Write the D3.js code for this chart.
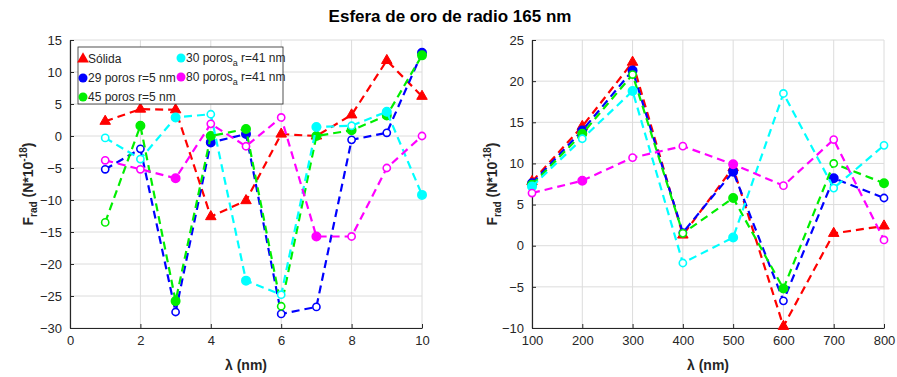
<!DOCTYPE html>
<html>
<head>
<meta charset="utf-8">
<script src="https://cdn.jsdelivr.net/npm/d3@7"></script>
<style>
  html, body { margin: 0; padding: 0; background: #fff; }
  svg { display: block; font-family: "Liberation Sans", Arial, Helvetica, sans-serif; }
</style>
</head>
<body>
<svg id="chart" width="897" height="377"></svg>
<script>
// Wavelength sweeps for each panel
const lambdaLeft = [1, 2, 3, 4, 5, 6, 7, 8, 9, 10];
const lambdaRight = [100, 200, 300, 400, 500, 600, 700, 800];

// Tick values
const xTicksLeft = [0, 2, 4, 6, 8, 10];
const yTicksLeft = [-30, -25, -20, -15, -10, -5, 0, 5, 10, 15];
const xTicksRight = [100, 200, 300, 400, 500, 600, 700, 800];
const yTicksRight = [-10, -5, 0, 5, 10, 15, 20, 25];

// Series names and colours
const seriesNames = ["Sólida", "29 poros r=5 nm", "45 poros r=5 nm", "30 poros_a r=41 nm", "80 poros_a r=41 nm"];
const seriesColors = ["#ff0000", "#0000ff", "#00ee00", "#00ffff", "#ff00ff"];

// Radiation force, left panel (N*10^-18)
const solidaLeft = [2.3, 4.2, 4.1, -12.6, -10.1, 0.3, 0.0, 3.3, 11.8, 6.2];
const poros29Left = [-5.2, -2.0, -27.5, -1.0, 0.3, -27.8, -26.7, -0.6, 0.5, 13.0];
const poros45Left = [-13.5, 1.6, -25.8, 0.0, 1.1, -26.6, 0.0, 0.9, 3.2, 12.6];
const poros30aLeft = [-0.3, -3.6, 2.9, 3.4, -22.6, -24.8, 1.4, 1.6, 3.8, -9.2];
const poros80aLeft = [-3.8, -5.2, -6.6, 1.9, -1.6, 2.9, -15.7, -15.7, -5.0, 0.0];

// Radiation force, right panel (N*10^-18)
const solidaRight = [7.8, 14.5, 22.3, 1.3, 9.5, -9.8, 1.5, 2.4];
const poros29Right = [7.6, 14.0, 21.3, 1.6, 9.0, -6.7, 8.2, 5.8];
const poros45Right = [7.4, 13.6, 20.8, 1.5, 5.8, -5.2, 10.0, 7.6];
const poros30aRight = [7.2, 13.0, 18.8, -2.1, 1.0, 18.5, 7.0, 12.2];
const poros80aRight = [6.4, 7.9, 10.7, 12.1, 9.9, 7.3, 12.9, 0.7];

// Filled (1) or hollow (0) circle markers per point
const fillLeft = [
  [1, 1, 1, 1, 1, 1, 1, 1, 1, 1],
  [0, 0, 0, 1, 1, 0, 0, 0, 0, 1],
  [0, 1, 1, 1, 1, 0, 1, 1, 1, 1],
  [0, 0, 1, 0, 1, 0, 1, 0, 1, 1],
  [0, 0, 1, 0, 0, 0, 1, 0, 0, 0]
];
const fillRight = [
  [1, 1, 1, 1, 1, 1, 1, 1],
  [1, 1, 1, 0, 1, 0, 1, 0],
  [1, 1, 0, 0, 1, 1, 0, 1],
  [1, 0, 1, 0, 1, 0, 0, 0],
  [0, 1, 0, 0, 1, 0, 0, 0]
];

const svg = d3.select("#chart");

svg.append("text")
  .attr("x", 450).attr("y", 22)
  .attr("text-anchor", "middle")
  .attr("font-size", 17).attr("font-weight", "bold")
  .attr("fill", "#000")
  .text("Esfera de oro de radio 165 nm");

function drawPanel(opts) {
  const { left, right, top, bottom, xDomain, yDomain, xTicks, yTicks, xs, series, fills, labelX } = opts;
  const x = d3.scaleLinear().domain(xDomain).range([left, right]);
  const y = d3.scaleLinear().domain(yDomain).range([bottom, top]);
  const g = svg.append("g");

  // grid
  g.append("g").selectAll("line").data(xTicks).join("line")
    .attr("x1", d => x(d)).attr("x2", d => x(d))
    .attr("y1", top).attr("y2", bottom)
    .attr("stroke", "#dcdcdc").attr("stroke-width", 1);
  g.append("g").selectAll("line").data(yTicks).join("line")
    .attr("x1", left).attr("x2", right)
    .attr("y1", d => y(d)).attr("y2", d => y(d))
    .attr("stroke", "#dcdcdc").attr("stroke-width", 1);

  // axes
  const xAxis = d3.axisBottom(x).tickValues(xTicks).tickSizeInner(-4).tickSizeOuter(0).tickPadding(8);
  const yAxis = d3.axisLeft(y).tickValues(yTicks).tickSizeInner(-4).tickSizeOuter(0).tickPadding(8);
  const gx = g.append("g").attr("transform", `translate(0,${bottom})`).call(xAxis);
  const gy = g.append("g").attr("transform", `translate(${left},0)`).call(yAxis);
  [gx, gy].forEach(a => {
    a.select(".domain").attr("stroke", "#262626").attr("stroke-width", 1.2);
    a.selectAll(".tick line").attr("stroke", "#262626");
    a.selectAll(".tick text").attr("fill", "#262626").attr("font-size", 13)
      .attr("font-family", "'Liberation Sans', Arial, sans-serif");
  });

  // series
  series.forEach((vals, si) => {
    const color = seriesColors[si];
    const pts = xs.map((xv, i) => ({ x: xv, y: vals[i], f: fills[si][i] }));
    g.append("path")
      .datum(pts)
      .attr("fill", "none")
      .attr("stroke", color)
      .attr("stroke-width", 2.2)
      .attr("stroke-dasharray", "8,5")
      .attr("d", d3.line().x(d => x(d.x)).y(d => y(d.y)));
    if (si === 0) {
      g.append("g").selectAll("path").data(pts).join("path")
        .attr("transform", d => `translate(${x(d.x)},${y(d.y)})`)
        .attr("d", d3.symbol(d3.symbolTriangle, 48))
        .attr("fill", color).attr("stroke", color).attr("stroke-width", 1);
    } else {
      g.append("g").selectAll("circle").data(pts).join("circle")
        .attr("cx", d => x(d.x)).attr("cy", d => y(d.y))
        .attr("r", d => d.f ? 4.2 : 3.6)
        .attr("fill", d => d.f ? color : "#fff")
        .attr("stroke", color).attr("stroke-width", 1.6);
    }
  });

  // axis labels
  const xl = g.append("text")
    .attr("x", (left + right) / 2).attr("y", 370)
    .attr("text-anchor", "middle").attr("font-size", 14).attr("font-weight", "bold")
    .attr("fill", "#262626");
  xl.append("tspan").text("λ (nm)");

  const yl = g.append("text")
    .attr("transform", `translate(${labelX},${(top + bottom) / 2}) rotate(-90)`)
    .attr("text-anchor", "middle").attr("font-size", 14).attr("font-weight", "bold")
    .attr("fill", "#262626");
  yl.append("tspan").text("F");
  yl.append("tspan").attr("font-size", 10).attr("dy", 4).text("rad");
  yl.append("tspan").attr("dy", -4).text(" (N*10");
  yl.append("tspan").attr("font-size", 10).attr("dy", -6).text("-18");
  yl.append("tspan").attr("dy", 6).text(")");

  return { x, y };
}

drawPanel({
  left: 70, right: 422, top: 40, bottom: 328,
  xDomain: [0, 10], yDomain: [-30, 15],
  xTicks: xTicksLeft, yTicks: yTicksLeft, xs: lambdaLeft,
  series: [solidaLeft, poros29Left, poros45Left, poros30aLeft, poros80aLeft],
  fills: fillLeft, labelX: 33
});

drawPanel({
  left: 532, right: 884, top: 40, bottom: 328,
  xDomain: [100, 800], yDomain: [-10, 25],
  xTicks: xTicksRight, yTicks: yTicksRight, xs: lambdaRight,
  series: [solidaRight, poros29Right, poros45Right, poros30aRight, poros80aRight],
  fills: fillRight, labelX: 497
});

// legend
const lg = svg.append("g");
lg.append("rect")
  .attr("x", 78).attr("y", 47).attr("width", 205).attr("height", 57)
  .attr("fill", "#fff").attr("stroke", "#262626").attr("stroke-width", 0.8);
const legendPos = [
  { mx: 83, tx: 88, y: 59 },
  { mx: 83, tx: 88, y: 78 },
  { mx: 83, tx: 88, y: 97 },
  { mx: 181, tx: 186, y: 58 },
  { mx: 181, tx: 186, y: 77 }
];
seriesNames.forEach((name, i) => {
  const p = legendPos[i];
  const c = seriesColors[i];
  if (i === 0) {
    lg.append("path")
      .attr("transform", `translate(${p.mx},${p.y})`)
      .attr("d", d3.symbol(d3.symbolTriangle, 60))
      .attr("fill", c);
  } else {
    lg.append("circle").attr("cx", p.mx).attr("cy", p.y).attr("r", 4.5).attr("fill", c);
  }
  const t = lg.append("text")
    .attr("x", p.tx).attr("y", p.y + 4)
    .attr("font-size", 12).attr("fill", "#262626");
  const parts = name.split("_a");
  if (parts.length === 2) {
    t.append("tspan").text(parts[0]);
    t.append("tspan").attr("font-size", 9).attr("dy", 4).text("a");
    t.append("tspan").attr("dy", -4).text(parts[1]);
  } else {
    t.text(name);
  }
});
</script>
</body>
</html>
